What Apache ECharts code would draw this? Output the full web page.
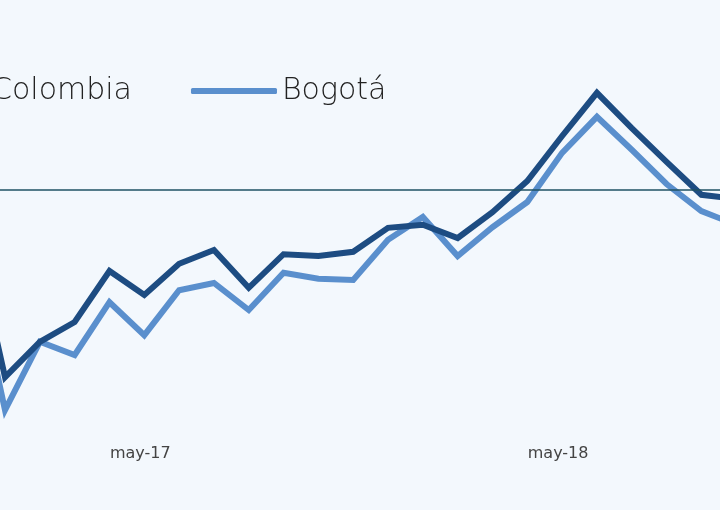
<!DOCTYPE html>
<html>
<head>
<meta charset="utf-8">
<script src="https://cdn.jsdelivr.net/npm/echarts@6/dist/echarts.min.js"></script>
<style>
  html, body { margin: 0; padding: 0; background: #f3f8fd; }
  #chart { width: 720px; height: 510px; }
</style>
</head>
<body>
<div id="chart"></div>
<script>
// meses (dic-16 .. oct-18)
const months = ['dic-16', 'ene-17', 'feb-17', 'mar-17', 'abr-17', 'may-17', 'jun-17', 'jul-17', 'ago-17',
  'sep-17', 'oct-17', 'nov-17', 'dic-17', 'ene-18', 'feb-18', 'mar-18', 'abr-18', 'may-18', 'jun-18',
  'jul-18', 'ago-18', 'sep-18', 'oct-18']

const colombia = [-5.3, -31.2, -25.3, -22.0, -13.5, -17.5, -12.3, -10.0, -16.3, -10.7, -11.0, -10.3,
  -6.3, -5.8, -8.0, -3.7, 1.5, 9.0, 16.2, 10.3, 4.7, -0.8, -1.5]

const bogota = [-9.7, -36.7, -25.3, -27.5, -18.7, -24.2, -16.7, -15.5, -20.0, -13.8, -14.8, -15.0,
  -8.3, -4.5, -11.0, -6.2, -2.0, 6.2, 12.2, 6.7, 1.0, -3.5, -5.8]

const referenceValue = 0

const chart = echarts.init(document.getElementById('chart'))

chart.setOption({
  backgroundColor: '#f3f8fd',
  animation: false,
  legend: {
    left: -105,
    top: 71,
    itemWidth: 86,
    itemHeight: 6,
    itemGap: 59,
    icon: 'roundRect',
    textStyle: { fontSize: 30, color: '#222', fontFamily: 'DejaVu Sans', fontWeight: 200 },
    data: ['Colombia', 'Bogotá']
  },
  grid: { left: -29.8, right: -16.2, top: 70, bottom: 80, outerBoundsMode: 'none' },
  xAxis: {
    type: 'category',
    data: months,
    boundaryGap: false,
    axisLine: { show: false },
    axisTick: { show: false },
    axisLabel: {
      interval: (i, v) => v.startsWith('may'),
      margin: 16,
      fontSize: 16,
      color: '#444',
      fontFamily: 'DejaVu Sans',
      padding: [0, 8, 0, 0]
    }
  },
  yAxis: {
    type: 'value',
    min: -40,
    max: 20,
    show: false
  },
  series: [
    {
      name: 'Colombia',
      type: 'line',
      data: colombia,
      symbol: 'none',
      lineStyle: { width: 6, color: '#1d4c82', join: 'miter' },
      itemStyle: { color: '#1d4c82' },
      z: 3,
      markLine: {
        silent: true,
        symbol: 'none',
        label: { show: false },
        lineStyle: { color: '#1f5263', width: 1.5, type: 'solid' },
        data: [{ yAxis: referenceValue }]
      }
    },
    {
      name: 'Bogotá',
      type: 'line',
      data: bogota,
      symbol: 'none',
      lineStyle: { width: 6, color: '#5a8fcd', join: 'miter' },
      itemStyle: { color: '#5a8fcd' },
      z: 2
    }
  ]
})
</script>
</body>
</html>
